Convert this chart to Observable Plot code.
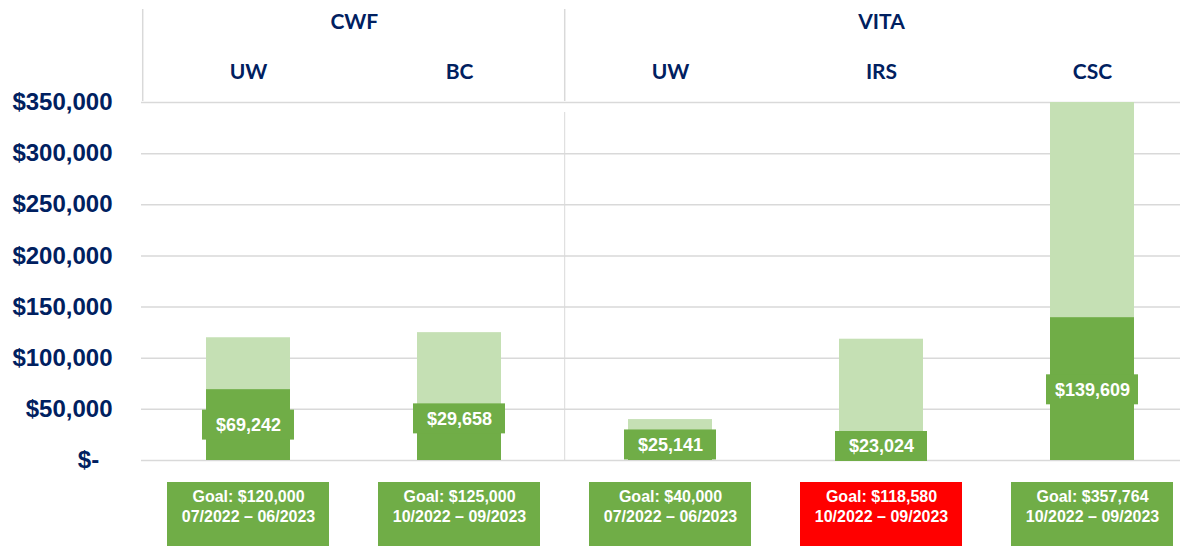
<!DOCTYPE html>
<html>
<head>
<meta charset="utf-8">
<script src="https://cdn.jsdelivr.net/npm/d3@7"></script>
<script src="https://cdn.jsdelivr.net/npm/@observablehq/plot@0.6"></script>
<style>
  html, body { margin: 0; padding: 0; background: #fff; }
  #chart { width: 1180px; height: 552px; }
</style>
</head>
<body>
<div id="chart"></div>
<script>
// ---- data ----
const groups   = ["CWF", "CWF", "VITA", "VITA", "VITA"];
const programs = ["UW", "BC", "UW", "IRS", "CSC"];
const goals    = [120000, 125000, 40000, 118580, 357764];
const actuals  = [69242, 29658, 25141, 23024, 139609];
const labelAt  = [34600, 40700, 15200, 13700, 69100];   // where each value label sits (in $)
const periods  = ["07/2022 – 06/2023", "10/2022 – 09/2023", "07/2022 – 06/2023", "10/2022 – 09/2023", "10/2022 – 09/2023"];
const status   = ["ok", "ok", "ok", "behind", "ok"];
const yTicks   = [0, 50000, 100000, 150000, 200000, 250000, 300000, 350000];

// ---- build table ----
const rows = programs.map((p, i) => ({
  key: groups[i] + "|" + p,
  group: groups[i],
  program: p,
  goal: goals[i],
  actual: actuals[i],
  labelAt: labelAt[i],
  period: periods[i],
  status: status[i]
}));
const keys = rows.map(d => d.key);
const groupNames = [...new Set(groups)];
const groupAnchors = groupNames.map(g => {
  const members = rows.filter(d => d.group === g);
  const mid = (members.length - 1) / 2;
  return {group: g, key: members[Math.floor(mid)].key, half: mid % 1 !== 0};
});

const fmt = d3.format(",");
const navy = "#002060";
const light = "#C5E0B4";
const dark = "#70AD47";
const grid = "#D9D9D9";
const xRange = [141, 1199];
const step = (xRange[1] - xRange[0]) / keys.length;
const headFont = "Lato, 'Open Sans', sans-serif";
const firstVita = rows.find(d => d.group === "VITA").key;

const chart = Plot.plot({
  width: 1180,
  height: 552,
  marginLeft: 141,
  marginRight: 0,
  marginTop: 102,
  marginBottom: 92,
  style: {fontFamily: "'Liberation Sans', Arial, sans-serif", background: "#fff"},
  x: {domain: keys, range: xRange, paddingInner: 0.6, paddingOuter: 0.3, axis: null},
  y: {domain: [0, 350000], axis: null},
  marks: [
    Plot.ruleY(yTicks, {stroke: grid, strokeWidth: 1.5}),
    // header frame lines
    Plot.ruleX([keys[0], firstVita], {
      dx: -step / 2, insetTop: -93, insetBottom: 359, stroke: grid, strokeWidth: 1.5
    }),
    // divider between groups in the plot area
    Plot.ruleX([firstVita], {
      dx: -step / 2, insetTop: 10, stroke: grid, strokeWidth: 1
    }),
    // goal bars
    Plot.barY(rows, {x: "key", y: "goal", fill: light, clip: true}),
    // actual bars
    Plot.barY(rows, {x: "key", y: "actual", fill: dark}),
    // value label boxes
    Plot.barY(rows, {
      x: "key", y1: "labelAt", y2: "labelAt",
      insetTop: -15, insetBottom: -15, insetLeft: -4, insetRight: -4, fill: dark
    }),
    Plot.text(rows, {
      x: "key", y: "labelAt", text: d => "$" + fmt(d.actual),
      fill: "white", fontSize: 18, fontWeight: "bold"
    }),
    // goal boxes under the chart
    Plot.cell(rows, {
      x: "key", fill: d => d.status === "behind" ? "#FF0000" : dark,
      insetTop: 380, insetBottom: -86, insetLeft: -39, insetRight: -39
    }),
    Plot.text(rows, {
      x: "key", frameAnchor: "bottom", dy: 27, lineAnchor: "top", lineHeight: 1.25,
      text: d => `Goal: $${fmt(d.goal)}\n${d.period}`,
      fill: "white", fontSize: 16, fontWeight: "bold"
    }),
    // header labels
    Plot.text(rows, {
      x: "key", frameAnchor: "top", lineAnchor: "middle", dy: -30, text: "program",
      fill: navy, fontSize: 21, fontWeight: "bold", fontFamily: headFont
    }),
    Plot.text(groupAnchors.filter(d => d.half), {
      x: "key", frameAnchor: "top", lineAnchor: "middle", dy: -80, dx: step / 2, text: "group",
      fill: navy, fontSize: 21, fontWeight: "bold", fontFamily: headFont
    }),
    Plot.text(groupAnchors.filter(d => !d.half), {
      x: "key", frameAnchor: "top", lineAnchor: "middle", dy: -80, text: "group",
      fill: navy, fontSize: 21, fontWeight: "bold", fontFamily: headFont
    }),
    // y axis
    Plot.axisY(yTicks, {
      tickSize: 0, tickPadding: 29, label: null,
      tickFormat: d => d === 0 ? "$-\u00a0\u00a0" : "$" + fmt(d),
      fontSize: 24, fontWeight: "bold", color: navy
    })
  ]
});
document.getElementById("chart").appendChild(chart);
</script>
</body>
</html>
